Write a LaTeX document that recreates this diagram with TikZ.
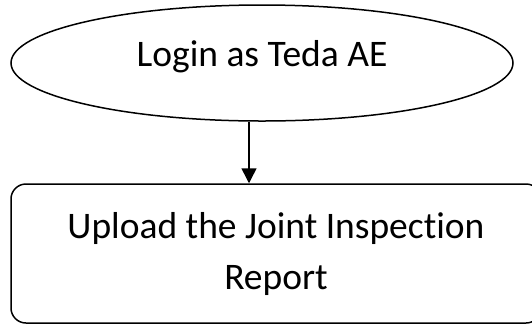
\documentclass[tikz,border=0pt]{standalone}
\usepackage{fontspec}
\setmainfont{Carlito}[Ligatures={NoCommon}]
\usetikzlibrary{shapes.geometric,arrows.meta}
\tikzset{
  outline/.style={draw=black,line width=1.5pt},
  startnode/.style={outline,ellipse,inner sep=0pt,minimum width=502pt,minimum height=116pt,
    font=\fontsize{37.5}{51}\selectfont,text height=14pt,text depth=8pt},
  stepbox/.style={outline,rectangle,rounded corners=15pt,inner sep=0pt,minimum width=530pt,minimum height=139pt,
    align=center,font=\fontsize{37.5}{51}\selectfont},
  flow/.style={line width=1.5pt,-{Triangle[length=15pt,width=15pt]}}
}
\begin{document}
\begin{tikzpicture}[x=1pt,y=-1pt]
\useasboundingbox (0,0) rectangle (532,325);
\node[startnode] (login) at (262,63) {Login as Teda AE};
\node[stepbox] (upload) at (276,253.5) {Upload the Joint Inspection\\Report};
\draw[flow] ([xshift=-13pt]login.south) -- ([xshift=-27pt]upload.north);
\end{tikzpicture}
\end{document}
